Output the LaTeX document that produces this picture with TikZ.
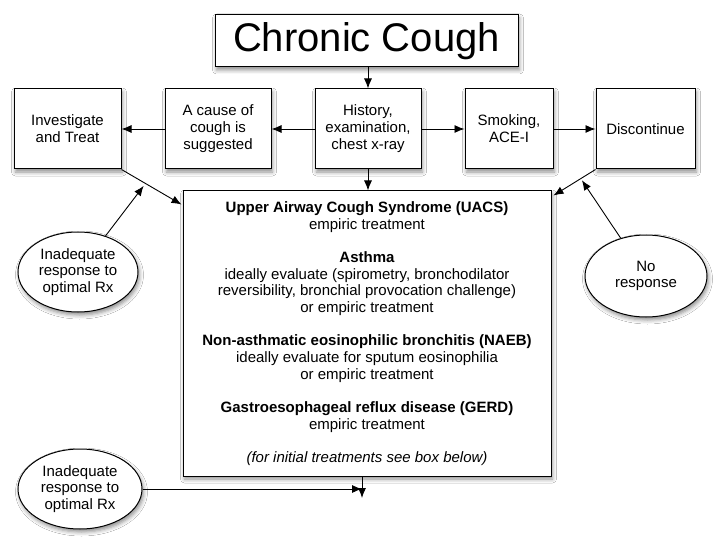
\documentclass[tikz,border=0pt]{standalone}
\usepackage{fontspec}
\setmainfont{Liberation Sans}
\usetikzlibrary{shapes.geometric,arrows.meta,shadows.blur}
\begin{document}
\begin{tikzpicture}[x=1pt,y=-1pt,
  shad/.style={blur shadow={shadow xshift=1.5pt,shadow yshift=-3pt,shadow blur radius=4pt,shadow opacity=45}},
  box/.style={draw=black,line width=1pt,fill=white,align=center,inner sep=2pt,
    font=\fontsize{15}{17}\selectfont,shad},
  ell/.style={ellipse,draw=black,line width=1pt,fill=white,align=center,inner sep=0pt,
    font=\fontsize{15}{16.7}\selectfont,shad},
  arr/.style={-{Latex[length=10pt,width=8pt]},line width=0.9pt}
]
\useasboundingbox[fill=white] (0,0) rectangle (720,540);

\node[box,minimum width=303pt,minimum height=52pt,font=\fontsize{40}{42}\selectfont] (title) at (366.5,41) {Chronic Cough};

\node[box,minimum width=107pt,minimum height=80pt] (inv) at (67.5,129) {Investigate\\and Treat};
\node[box,minimum width=106pt,minimum height=80pt] (cause) at (218,129) {A cause of\\cough is\\suggested};
\node[box,minimum width=106pt,minimum height=80pt] (hist) at (368,129) {History,\\examination,\\chest x-ray};
\node[box,minimum width=88pt,minimum height=80pt] (smoke) at (509,129) {Smoking,\\ACE-I};
\node[box,minimum width=99pt,minimum height=80pt] (disc) at (645.5,129) {Discontinue};

\node[box,minimum width=368pt,minimum height=285pt,font=\fontsize{15}{16.7}\selectfont] (main) at (367,333.5) {%
\textbf{Upper Airway Cough Syndrome (UACS)}\\
empiric treatment\\[16.5pt]
\textbf{Asthma}\\
ideally evaluate (spirometry, bronchodilator\\
reversibility, bronchial provocation challenge)\\
or empiric treatment\\[16.5pt]
\textbf{Non-asthmatic eosinophilic bronchitis (NAEB)}\\
ideally evaluate for sputum eosinophilia\\
or empiric treatment\\[16.5pt]
\textbf{Gastroesophageal reflux disease (GERD)}\\
empiric treatment\\[16.5pt]
\textit{(for initial treatments see box below)}};

\node[ell,minimum width=120pt,minimum height=80pt] (e1) at (78,272) {Inadequate\\response to\\optimal Rx};
\node[ell,minimum width=122pt,minimum height=82pt] (e2) at (646,276) {No\\response};
\node[ell,minimum width=124pt,minimum height=80pt] (e3) at (80,489) {Inadequate\\response to\\optimal Rx};

% straight connectors
\draw[arr] (title.south -| hist.north) -- (hist.north);
\draw[arr] (hist.west) -- (cause.east);
\draw[arr] (cause.west) -- (inv.east);
\draw[arr] (hist.east) -- (smoke.west);
\draw[arr] (smoke.east) -- (disc.west);
\draw[arr] (hist.south) -- (hist.south |- main.north);

% diagonal connectors
\coordinate (mL) at ($(main.north west)+(-1,14)$);
\coordinate (mR) at ($(main.north east)+(2,5)$);
\draw[arr] (inv.south east) -- (mL);
\draw[arr] (disc.south west) -- (mR);
\coordinate (t1) at ($(inv.south east)!0.40!(mL)$);
\coordinate (t2) at ($(disc.south west)!0.35!(mR)$);
\draw[arr,shorten >=3pt] (e1) -- (t1);
\draw[arr,shorten >=2pt] (e2) -- (t2);

% bottom
\coordinate (bs) at (362,476.5);
\coordinate (be) at (362,498);
\draw[arr] (bs) -- (be);
\draw[arr] (e3.east) -- (e3.east -| bs);
\end{tikzpicture}
\end{document}
